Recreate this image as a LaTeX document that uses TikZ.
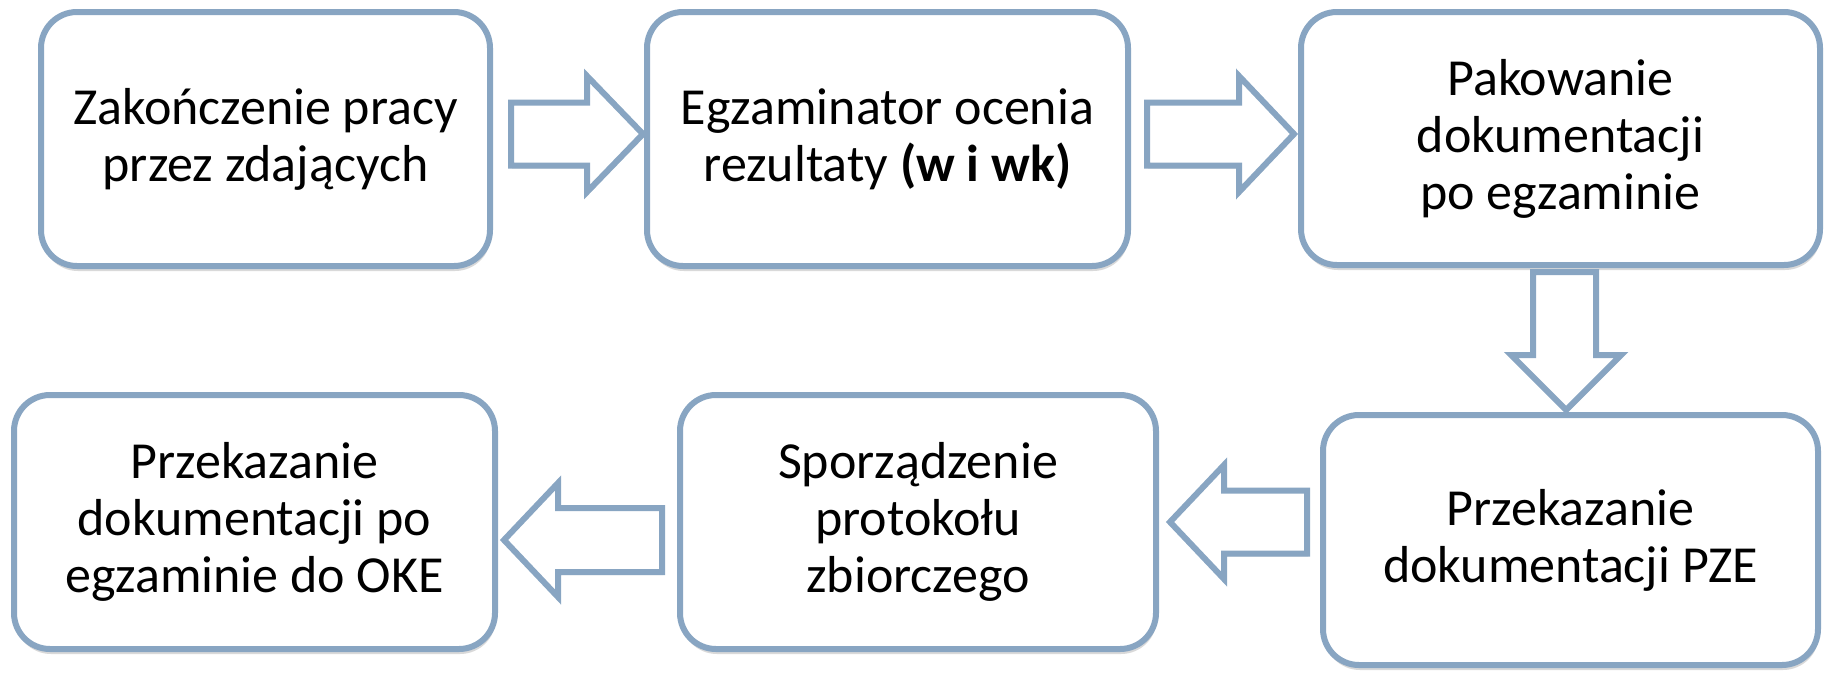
\documentclass[tikz,border=0pt]{standalone}
\usepackage{fontspec}
\setmainfont{Carlito}
\usetikzlibrary{shadows}
\definecolor{edge}{RGB}{136,165,194}
\begin{document}
\begin{tikzpicture}[x=1pt,y=1pt,
  box/.style={draw=edge, line width=6pt, fill=white, rounded corners=36pt,
    align=center, inner sep=0pt, font=\fontsize{52}{57}\selectfont,
    drop shadow={shadow xshift=1pt, shadow yshift=-5pt, opacity=0.25, fill=black!60}},
  blockarrow/.style={draw=edge, line width=6pt, fill=white, line join=miter,
    drop shadow={shadow xshift=1pt, shadow yshift=-3pt, opacity=0.2, fill=black!60}}]
\useasboundingbox (0,0) rectangle (1832,-673);
\node[box, minimum width=449pt, minimum height=254pt] (b1) at (265.5,-139)
  {Zakończenie pracy\\przez zdających};
\node[box, minimum width=481pt, minimum height=254pt] (b2) at (887.5,-139)
  {Egzaminator ocenia\\rezultaty \textbf{(w i wk)}};
\node[box, minimum width=519pt, minimum height=253pt] (b3) at (1560.5,-138.5)
  {Pakowanie\\dokumentacji\\po egzaminie};
\node[box, minimum width=495pt, minimum height=250pt] (b4) at (1570.5,-540)
  {Przekazanie\\dokumentacji PZE};
\node[box, minimum width=476pt, minimum height=254pt] (b5) at (918,-522)
  {Sporządzenie\\protokołu\\zbiorczego};
\node[box, minimum width=481pt, minimum height=254pt] (b6) at (254.5,-522)
  {Przekazanie\\dokumentacji po\\egzaminie do OKE};
% block arrows between the boxes
\draw[blockarrow] (511,-102.5) -- (587,-102.5) -- (587,-76) -- (643,-134)
  -- (587,-192) -- (587,-165.5) -- (511,-165.5) -- cycle;
\draw[blockarrow] (1147,-102.5) -- (1239,-102.5) -- (1239,-76) -- (1294,-134)
  -- (1239,-192) -- (1239,-165.5) -- (1147,-165.5) -- cycle;
\draw[blockarrow] (1533,-272) -- (1596,-272) -- (1596,-355) -- (1621,-355)
  -- (1566,-410) -- (1511,-355) -- (1533,-355) -- cycle;
\draw[blockarrow] (1307,-490.5) -- (1224,-490.5) -- (1224,-465) -- (1170,-522)
  -- (1224,-579) -- (1224,-553.5) -- (1307,-553.5) -- cycle;
\draw[blockarrow] (662,-508) -- (558,-508) -- (558,-483) -- (504,-540)
  -- (558,-597) -- (558,-572) -- (662,-572) -- cycle;
\end{tikzpicture}
\end{document}
